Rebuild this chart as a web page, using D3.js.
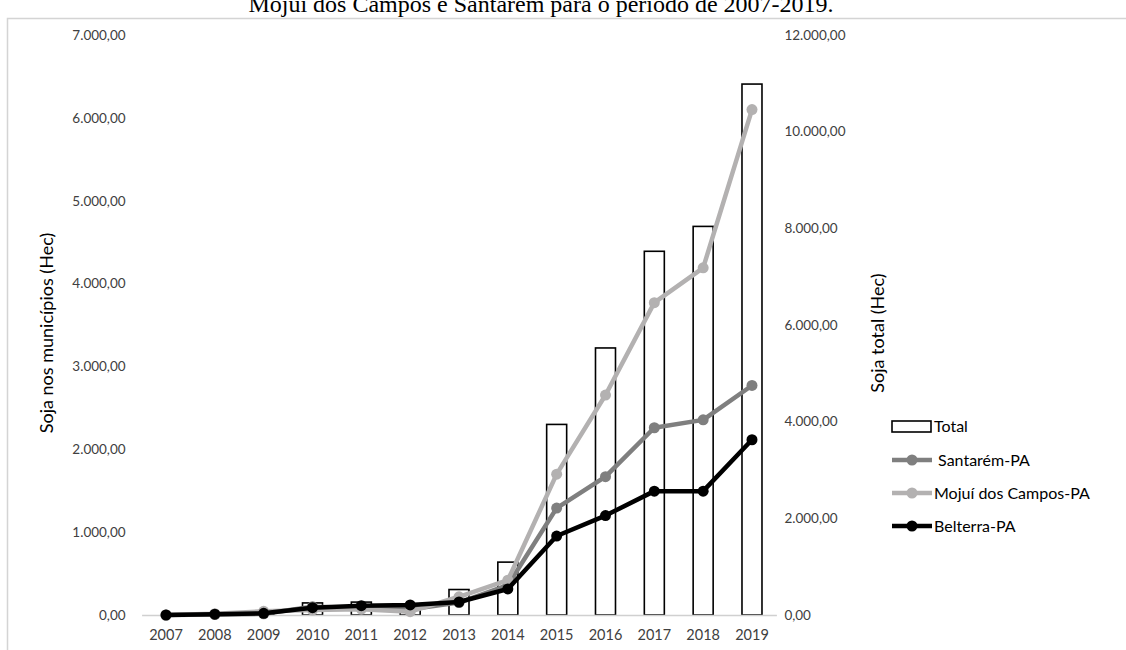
<!DOCTYPE html>
<html>
<head>
<meta charset="utf-8">
<script src="https://cdn.jsdelivr.net/npm/d3@7"></script>
<style>
  html, body { margin: 0; padding: 0; background: #fff; }
  svg { display: block; }
</style>
</head>
<body>
<svg id="chart" width="1126" height="650"></svg>
<script>
// Soybean area (hectares) per municipality, 2007-2019
const years = ["2007","2008","2009","2010","2011","2012","2013","2014","2015","2016","2017","2018","2019"];
const santarem = [0, 5, 15, 100, 85, 70, 150, 360, 1290, 1670, 2260, 2355, 2770];
const mojui    = [0, 15, 45, 60, 70, 40, 220, 420, 1700, 2655, 3770, 4190, 6100];
const belterra = [0, 10, 20, 88, 112, 121, 157, 314, 953, 1200, 1495, 1495, 2115];
const total    = [0, 30, 80, 250, 267, 231, 527, 1094, 3943, 5525, 7525, 8040, 10985];

const leftTicks  = [0, 1000, 2000, 3000, 4000, 5000, 6000, 7000];
const rightTicks = [0, 2000, 4000, 6000, 8000, 10000, 12000];

const series = [
  { name: " Santarém-PA",        values: santarem, color: "#7f7f7f" },
  { name: "Mojuí dos Campos-PA", values: mojui,    color: "#b3b1b1" },
  { name: "Belterra-PA",         values: belterra, color: "#000000" }
];

const titleText = "Mojuí dos Campos e Santarém para o período de 2007-2019.";

const ptBR = d3.formatLocale({ decimal: ",", thousands: ".", grouping: [3], currency: ["R$ ", ""] });
const fmt = ptBR.format(",.2f");

const svg = d3.select("#chart");
const font = "Lato, 'Noto Sans', sans-serif";

// chart frame edges
svg.append("path")
  .attr("d", "M7.5,650 V18.5 H1126")
  .attr("fill", "none")
  .attr("stroke", "#d4d4d4")
  .attr("stroke-width", 1.5);

// caption, partially cut by the top edge
svg.append("text")
  .attr("x", 541).attr("y", 12)
  .attr("text-anchor", "middle")
  .attr("font-family", "'Liberation Serif', 'Times New Roman', serif")
  .attr("font-size", 24)
  .attr("fill", "#000")
  .text(titleText);

const plot = { left: 141.6, right: 776.4, top: 35, bottom: 615 };

const x = d3.scaleBand().domain(years).range([plot.left, plot.right]).paddingInner(0).paddingOuter(0);
const yL = d3.scaleLinear().domain([0, 7000]).range([plot.bottom, plot.top]);
const yR = d3.scaleLinear().domain([0, 12000]).range([plot.bottom, plot.top]);

// left axis labels
const gL = svg.append("g").attr("transform", `translate(${plot.left - 16},0)`)
  .call(d3.axisLeft(yL).tickValues(leftTicks).tickFormat(fmt).tickSize(0).tickPadding(0));
gL.select(".domain").remove();
gL.selectAll("text").attr("font-family", font).attr("font-size", 13.5).attr("fill", "#404040");

// right axis labels
const gR = svg.append("g").attr("transform", `translate(${plot.right + 8},0)`)
  .call(d3.axisRight(yR).tickValues(rightTicks).tickFormat(fmt).tickSize(0).tickPadding(0));
gR.select(".domain").remove();
gR.selectAll("text").attr("font-family", font).attr("font-size", 13.5).attr("fill", "#404040");

// total bars (right axis)
const barW = 20;
svg.append("g").selectAll("rect")
  .data(years)
  .join("rect")
  .attr("x", (d) => x(d) + x.bandwidth() / 2 - barW / 2)
  .attr("y", (d, i) => yR(total[i]))
  .attr("width", barW)
  .attr("height", (d, i) => yR(0) - yR(total[i]))
  .attr("fill", "#fff")
  .attr("stroke", "#000")
  .attr("stroke-width", 1.6);

// category axis
const gX = svg.append("g").attr("transform", `translate(0,${plot.bottom})`)
  .call(d3.axisBottom(x).tickSize(0).tickPadding(15));
gX.select(".domain").attr("stroke", "#d0d0d0").attr("stroke-width", 1.5);
gX.selectAll("text").attr("font-family", font).attr("font-size", 14.5).attr("fill", "#404040");

// municipality lines (left axis)
const line = d3.line()
  .x((d, i) => x(years[i]) + x.bandwidth() / 2)
  .y((d) => yL(d));

series.forEach((s) => {
  const g = svg.append("g");
  g.append("path")
    .attr("d", line(s.values))
    .attr("fill", "none")
    .attr("stroke", s.color)
    .attr("stroke-width", 4.5)
    .attr("stroke-linejoin", "round");
  g.selectAll("circle")
    .data(s.values)
    .join("circle")
    .attr("cx", (d, i) => x(years[i]) + x.bandwidth() / 2)
    .attr("cy", (d) => yL(d))
    .attr("r", 5.5)
    .attr("fill", s.color);
});

// axis titles
svg.append("text")
  .attr("transform", "translate(53,333) rotate(-90)")
  .attr("text-anchor", "middle")
  .attr("font-family", font).attr("font-size", 18).attr("fill", "#000")
  .text("Soja nos municípios (Hec)");

svg.append("text")
  .attr("transform", "translate(884,333) rotate(-90)")
  .attr("text-anchor", "middle")
  .attr("font-family", font).attr("font-size", 18).attr("fill", "#000")
  .text("Soja total (Hec)");

// legend
const legendFont = 16;
const lg = svg.append("g");
lg.append("rect")
  .attr("x", 892).attr("y", 421).attr("width", 39).attr("height", 11)
  .attr("fill", "#fff").attr("stroke", "#000").attr("stroke-width", 1.6);
lg.append("text")
  .attr("x", 934).attr("y", 432)
  .attr("font-family", font).attr("font-size", legendFont).attr("fill", "#000")
  .text("Total");

const legendRows = [460, 493, 526];
series.forEach((s, i) => {
  const cy = legendRows[i];
  lg.append("line")
    .attr("x1", 892).attr("x2", 932).attr("y1", cy).attr("y2", cy)
    .attr("stroke", s.color).attr("stroke-width", 4.5);
  lg.append("circle")
    .attr("cx", 912).attr("cy", cy).attr("r", 5.5).attr("fill", s.color);
  lg.append("text")
    .attr("x", 934).attr("y", cy + 6)
    .attr("font-family", font).attr("font-size", legendFont).attr("fill", "#000")
    .attr("xml:space", "preserve")
    .style("white-space", "pre")
    .text(s.name);
});
</script>
</body>
</html>
